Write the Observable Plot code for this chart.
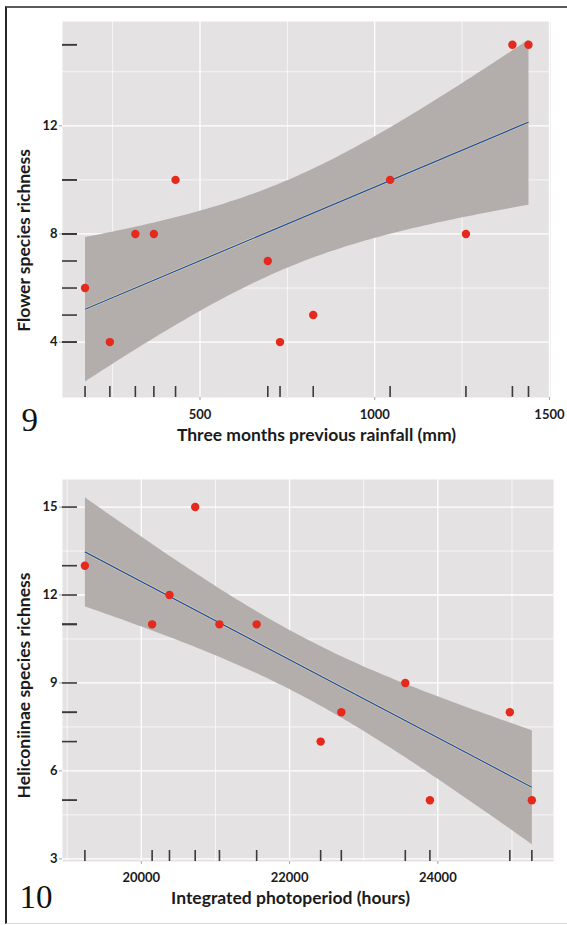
<!DOCTYPE html>
<html><head><meta charset="utf-8">
<script src="https://cdn.jsdelivr.net/npm/d3@7"></script>
<script src="https://cdn.jsdelivr.net/npm/@observablehq/plot@0.6"></script>
<style>
body{margin:0;background:#fff;}
#wrap{position:relative;width:567px;height:925px;overflow:hidden;background:#fff;}
#border{position:absolute;left:5px;top:6px;width:600px;height:915px;border-top:2px solid #5b5b5b;border-left:2px solid #262626;border-bottom:1px solid #dadada;}
.panel{position:absolute;left:0;}
</style></head><body>
<div id="wrap"><div id="border"></div><div id="p9" class="panel" style="top:0"></div><div id="p10" class="panel" style="top:450px"></div></div>
<script>
// Figure 9
const rainfall = [171, 242, 315, 368, 430, 694, 729, 824, 1044, 1261, 1394, 1440];
const flowerRichness = [6, 4, 8, 8, 10, 7, 4, 5, 10, 8, 15, 15];
const rainfallTicks = [500, 1000, 1500];
const rainfallMinor = [250, 750, 1250];
const flowerTicks = [4, 8, 12];
const flowerMinor = [6, 10, 14];

// Figure 10
const photoperiod = [19239, 20146, 20380, 20727, 21054, 21556, 22419, 22698, 23561, 23893, 24971, 25268];
const heliconiinaeRichness = [13, 11, 12, 15, 11, 11, 7, 8, 9, 5, 8, 5];
const photoTicks = [20000, 22000, 24000];
const photoMinor = [19000, 21000, 23000, 25000];
const helicoTicks = [3, 6, 9, 12, 15];
const helicoMinor = [4.5, 7.5, 10.5, 13.5];

function makePanel(o) {
  const data = o.xs.map((x, i) => ({x, y: o.ys[i]}));
  const pw = 567 - o.marginLeft - o.marginRight;
  const ph = o.height - o.marginTop - o.marginBottom;
  const labelFont = {fontFamily: "Lato", fontWeight: "bold", fontSize: 17.5, fill: "#1b1b1b"};
  return Plot.plot({
    width: 567, height: o.height,
    marginLeft: o.marginLeft, marginRight: o.marginRight,
    marginTop: o.marginTop, marginBottom: o.marginBottom,
    style: {fontFamily: "Lato", fontSize: "13px", fontWeight: "bold", background: "transparent", overflow: "visible"},
    x: {domain: o.xDomain},
    y: {domain: o.yDomain},
    marks: [
      Plot.frame({fill: "#e4e2e3", stroke: "none"}),
      Plot.gridX({ticks: o.xMinor, stroke: "#fff", strokeOpacity: 1, strokeWidth: 0.7}),
      Plot.gridY({ticks: o.yMinor, stroke: "#fff", strokeOpacity: 1, strokeWidth: 0.7}),
      Plot.gridX({ticks: o.xTicks, stroke: "#fff", strokeOpacity: 1, strokeWidth: 1.3}),
      Plot.gridY({ticks: o.yTicks, stroke: "#fff", strokeOpacity: 1, strokeWidth: 1.3}),
      Plot.linearRegressionY(data, {x: "x", y: "y", ci: 0.92, stroke: "none", fill: "#b3aeab", fillOpacity: 1}),
      Plot.linearRegressionY(data, {x: "x", y: "y", ci: 0, stroke: "#e9dca6", strokeWidth: 2.4, strokeLinecap: "butt"}),
      Plot.linearRegressionY(data, {x: "x", y: "y", ci: 0, stroke: "#2450a6", strokeWidth: 1.3, strokeLinecap: "butt"}),
      Plot.ruleX(data, {x: "x", insetTop: ph - 11, stroke: "#3a3a3a", strokeWidth: 1.6}),
      Plot.ruleY(data, {y: "y", insetRight: pw - 15, stroke: "#3a3a3a", strokeWidth: 1.6}),
      Plot.dot(data, {x: "x", y: "y", r: 4.2, fill: "#e5291c", stroke: "none"}),
      Plot.axisX({ticks: o.xTicks, tickSize: 3, tickPadding: o.xPad, stroke: "#9aa6b0", fill: "#1b1b1b", label: null, tickFormat: d => String(d)}),
      Plot.axisY({ticks: o.yTicks, tickSize: 3, tickPadding: 2, stroke: "#9aa6b0", fill: "#1b1b1b", label: null}),
      Plot.text([o.xLabel], {text: d => d, frameAnchor: "bottom", dx: o.xLabelDx, dy: o.xLabelDy, lineAnchor: "middle", textAnchor: "middle", ...labelFont}),
      Plot.text([o.yLabel], {text: d => d, frameAnchor: "left", dx: o.yLabelDx, dy: o.yLabelDy, rotate: -90, lineAnchor: "middle", textAnchor: "middle", ...labelFont}),
      Plot.text([o.number], {text: d => d, frameAnchor: "bottom-left", dx: o.numDx, dy: o.numDy, lineAnchor: "bottom", textAnchor: "start", fontFamily: "Liberation Serif", fontWeight: "normal", fontSize: 33, fill: "#111"})
    ]
  });
}

document.getElementById("p9").appendChild(makePanel({
  xs: rainfall, ys: flowerRichness,
  xDomain: [106.5, 1503], yDomain: [1.95, 15.86],
  xTicks: rainfallTicks, xMinor: rainfallMinor, yTicks: flowerTicks, yMinor: flowerMinor,
  height: 450, marginTop: 21, marginBottom: 53, marginLeft: 62, marginRight: 17,
  xPad: 9,
  xLabel: "Three months previous rainfall (mm)", xLabelDx: 10, xLabelDy: 38,
  yLabel: "Flower species richness", yLabelDx: -38, yLabelDy: 31,
  number: "9", numDx: -41, numDy: 33
}));

document.getElementById("p10").appendChild(makePanel({
  xs: photoperiod, ys: heliconiinaeRichness,
  xDomain: [18937, 25560], yDomain: [2.91, 15.94],
  xTicks: photoTicks, xMinor: photoMinor, yTicks: helicoTicks, yMinor: helicoMinor,
  height: 475, marginTop: 29, marginBottom: 64, marginLeft: 62, marginRight: 14,
  xPad: 8,
  xLabel: "Integrated photoperiod (hours)", xLabelDx: -17.5, xLabelDy: 36.5,
  yLabel: "Heliconiinae species richness", yLabelDx: -38, yLabelDy: 15,
  number: "10", numDx: -43, numDy: 46
}));
</script>
</body></html>
